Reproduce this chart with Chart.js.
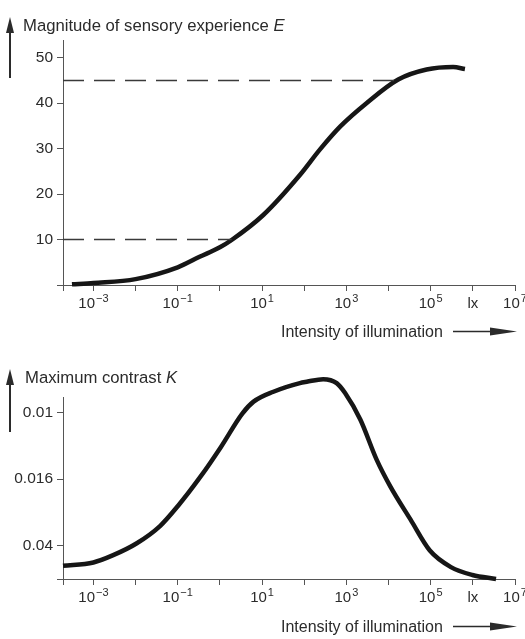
<!DOCTYPE html>
<html lang="en">
<head>
<meta charset="UTF-8">
<title>Sensory experience and maximum contrast vs illumination</title>
<script src="https://cdn.jsdelivr.net/npm/chart.js@4"></script>
<style>
  body { margin: 0; background: #fff; }
  canvas { display: block; }
</style>
</head>
<body>
<canvas id="topChart" width="525" height="345"></canvas>
<canvas id="bottomChart" width="525" height="294"></canvas>
<script>
// shared illumination axis (lux, log)
const luxMin = 1.9e-4;
const luxMax = 1e7;
const luxTicks = [1e-3, 1e-2, 1e-1, 1, 1e1, 1e2, 1e3, 1e4, 1e5, 1e6, 1e7];
const luxTickLabels = [['10', '−3'], '', ['10', '−1'], '', ['10', '1'], '', ['10', '3'], '', ['10', '5'], 'lx', ['10', '7']];

// top: magnitude of sensory experience E
const sensLux = [3.1e-4, 1e-3, 1e-2, 1e-1, 0.33, 1, 1.9, 10.7, 79, 240, 720, 3000, 1.7e4, 8e4, 3.4e5, 6.5e5];
const sensE   = [0.15, 0.45, 1.3, 3.9, 6.2, 8.3, 9.9, 15.4, 24.2, 29.9, 34.9, 40, 45.2, 47.4, 47.95, 47.5];
const sensTicks = [0, 10, 20, 30, 40, 50];
const refLevels = [10, 45];
const refEndLux = [1.9, 1.7e4];

// bottom: maximum contrast K (tick marks are evenly spaced, values give position on that axis)
const contrastLux = [1.9e-4, 1e-3, 2.95e-3, 1.07e-2, 3.8e-2, 0.1, 0.35, 1.07, 3.4, 6.3, 18.6, 79, 115, 282, 589, 933, 2140, 5250, 1.1e4, 3.31e4, 9.55e4, 3.02e5, 9.77e5, 3.55e6];
const contrastPos = [0.69, 0.74, 0.85, 1.03, 1.29, 1.59, 2.04, 2.49, 2.99, 3.17, 3.32, 3.45, 3.47, 3.51, 3.45, 3.30, 2.90, 2.29, 1.89, 1.39, 0.92, 0.67, 0.55, 0.49];
const contrastTickPos = [1, 2, 3];
const contrastTickLabels = ['0.04', '0.016', '0.01'];

const FONT = "'Liberation Sans', Arial, Helvetica, sans-serif";
const INK = '#2b2b2b';
const AXIS = '#555';

// draws the x tick labels with exponents, axis titles and the arrows
const decor = {
  id: 'decor',
  afterDraw(chart, args, opts) {
    const ctx = chart.ctx;
    const area = chart.chartArea;
    const xs = chart.scales.x;
    ctx.save();
    ctx.fillStyle = INK;
    ctx.strokeStyle = INK;
    ctx.textBaseline = 'alphabetic';

    const base = area.bottom + 23;
    luxTicks.forEach((v, i) => {
      const lab = luxTickLabels[i];
      if (!lab) return;
      const px = xs.getPixelForValue(v);
      if (Array.isArray(lab)) {
        ctx.font = '15px ' + FONT;
        const w1 = ctx.measureText(lab[0]).width;
        ctx.font = '11px ' + FONT;
        const w2 = ctx.measureText(lab[1]).width;
        const sx = px - (w1 + w2 + 1) / 2;
        ctx.textAlign = 'left';
        ctx.font = '15px ' + FONT;
        ctx.fillText(lab[0], sx, base);
        ctx.font = '11px ' + FONT;
        ctx.fillText(lab[1], sx + w1 + 1, base - 6);
      } else {
        ctx.font = '15px ' + FONT;
        ctx.textAlign = 'center';
        ctx.fillText(lab, px, base);
      }
    });

    // x title with arrow
    const tb = area.bottom + opts.xTitleGap;
    ctx.font = '16px ' + FONT;
    ctx.textAlign = 'left';
    ctx.fillText('Intensity of illumination', 281, tb);
    const ay = tb - 5.5;
    ctx.lineWidth = 1.5;
    ctx.beginPath();
    ctx.moveTo(453, ay);
    ctx.lineTo(492, ay);
    ctx.stroke();
    ctx.beginPath();
    ctx.moveTo(517, ay);
    ctx.lineTo(490, ay - 4);
    ctx.lineTo(490, ay + 4);
    ctx.closePath();
    ctx.fill();

    // y title with arrow
    ctx.font = '16.7px ' + FONT;
    const head = opts.title + ' ';
    ctx.fillText(head, opts.titleX, opts.titleY);
    const tw = ctx.measureText(head).width;
    ctx.font = 'italic 16.7px ' + FONT;
    ctx.fillText(opts.symbol, opts.titleX + tw, opts.titleY);

    ctx.lineWidth = 2;
    ctx.beginPath();
    ctx.moveTo(10, opts.arrowBottom);
    ctx.lineTo(10, opts.arrowTip + 12);
    ctx.stroke();
    ctx.beginPath();
    ctx.moveTo(10, opts.arrowTip);
    ctx.lineTo(14, opts.arrowTip + 16);
    ctx.lineTo(6, opts.arrowTip + 16);
    ctx.closePath();
    ctx.fill();
    ctx.restore();
  }
};

function xScale() {
  return {
    type: 'logarithmic',
    min: luxMin,
    max: luxMax,
    afterBuildTicks: s => { s.ticks = [luxMin, ...luxTicks].map(v => ({ value: v })); },
    afterFit: s => { s.height = 60; },
    ticks: { display: false },
    grid: { drawOnChartArea: false, drawTicks: true, tickLength: 6, color: AXIS, lineWidth: 1 },
    border: { display: true, color: AXIS, width: 1 }
  };
}

function curve(xsArr, ysArr) {
  return {
    data: xsArr.map((x, i) => ({ x: x, y: ysArr[i] })),
    borderColor: '#161616',
    borderWidth: 4.5,
    borderCapStyle: 'butt',
    pointRadius: 0,
    cubicInterpolationMode: 'monotone',
    clip: false
  };
}

const refSets = refLevels.map((lvl, i) => ({
  data: [{ x: luxMin, y: lvl }, { x: refEndLux[i], y: lvl }],
  borderColor: '#3a3a3a',
  borderWidth: 1.5,
  borderDash: [21, 10],
  pointRadius: 0
}));

new Chart(document.getElementById('topChart'), {
  type: 'line',
  data: { datasets: [...refSets, curve(sensLux, sensE)] },
  options: {
    responsive: false,
    animation: false,
    layout: { padding: { left: 0, right: 10, top: 40, bottom: 0 } },
    plugins: {
      legend: { display: false },
      tooltip: { enabled: false },
      decor: { title: 'Magnitude of sensory experience', symbol: 'E', titleX: 23, titleY: 31, arrowTip: 17, arrowBottom: 78, xTitleGap: 52 }
    },
    scales: {
      x: xScale(),
      y: {
        min: 0,
        max: 53.9,
        afterBuildTicks: s => { s.ticks = sensTicks.map(v => ({ value: v })); },
        afterFit: s => { s.width = 63; },
        ticks: { color: INK, font: { family: FONT, size: 15.5 }, padding: 4, callback: v => v === 0 ? '' : v },
        grid: { drawOnChartArea: false, drawTicks: true, tickLength: 6, color: AXIS, lineWidth: 1 },
        border: { display: true, color: AXIS, width: 1 }
      }
    }
  },
  plugins: [decor]
});

new Chart(document.getElementById('bottomChart'), {
  type: 'line',
  data: { datasets: [curve(contrastLux, contrastPos)] },
  options: {
    responsive: false,
    animation: false,
    layout: { padding: { left: 0, right: 10, top: 52, bottom: 0 } },
    plugins: {
      legend: { display: false },
      tooltip: { enabled: false },
      decor: { title: 'Maximum contrast', symbol: 'K', titleX: 25, titleY: 38, arrowTip: 24, arrowBottom: 87, xTitleGap: 53 }
    },
    scales: {
      x: xScale(),
      y: {
        min: 0.49,
        max: 3.24,
        afterBuildTicks: s => { s.ticks = [0.49, ...contrastTickPos].map(v => ({ value: v })); },
        afterFit: s => { s.width = 63; },
        ticks: {
          color: INK,
          font: { family: FONT, size: 15.5 },
          padding: 4,
          callback: v => {
            const i = contrastTickPos.indexOf(v);
            return i < 0 ? '' : contrastTickLabels[i];
          }
        },
        grid: { drawOnChartArea: false, drawTicks: true, tickLength: 6, color: AXIS, lineWidth: 1 },
        border: { display: true, color: AXIS, width: 1 }
      }
    }
  },
  plugins: [decor]
});
</script>
</body>
</html>
